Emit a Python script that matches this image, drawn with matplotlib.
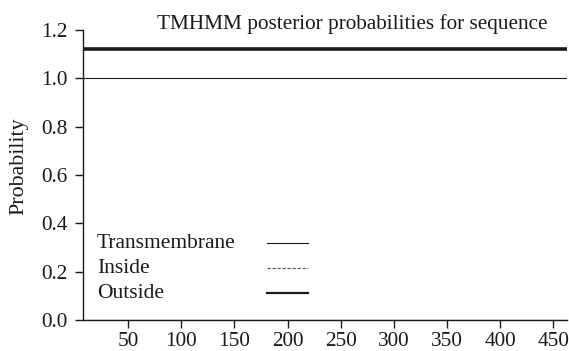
import numpy as np
import matplotlib
matplotlib.use("Agg")
import matplotlib.pyplot as plt

# ---- data ----
seq_len = 463
positions = np.arange(1, seq_len + 1)
transmembrane = np.zeros(seq_len)
inside = np.zeros(seq_len)
outside = np.ones(seq_len)
outside_bar_level = 1.12
labels = ["Transmembrane", "Inside", "Outside"]
xticks = [50, 100, 150, 200, 250, 300, 350, 400, 450]
yticks = [0.0, 0.2, 0.4, 0.6, 0.8, 1.0, 1.2]
title = "TMHMM posterior probabilities for sequence"

plt.rcParams['font.family'] = ['Liberation Serif', 'DejaVu Serif']
fs = 15.3
ink = '#1a1a1a'

fig = plt.figure(figsize=(5.69, 3.51), dpi=100)
ax = fig.add_axes([83/569, 1-320/351, 484/569, 290/351])

ax.plot(positions, transmembrane, color=ink, lw=0.8)
ax.plot(positions, inside, color='#555555', lw=0.8, ls=(0, (3, 1.5)))
ax.plot(positions, outside, color=ink, lw=0.8)
ax.plot(positions, np.full(seq_len, outside_bar_level), color=ink, lw=2.6, solid_capstyle='butt')

ax.set_xlim(7.5, 463)
ax.set_ylim(0, 1.2)
ax.set_xticks(xticks)
ax.set_yticks(yticks)
ax.set_yticklabels([f"{v:.1f}" for v in yticks])
for s in ['top', 'right']:
    ax.spines[s].set_visible(False)
for s in ['left', 'bottom']:
    ax.spines[s].set_color(ink)
    ax.spines[s].set_linewidth(1.0)
ax.tick_params(axis='both', direction='out', length=6, width=1.0, colors=ink, labelsize=fs)
ax.tick_params(axis='y', pad=5)
ax.tick_params(axis='x', pad=3)
ax.set_ylabel("Probability", fontsize=15.8, color=ink)
ax.yaxis.set_label_coords(-0.112, 0.531)

fig.text(157/569, 1-29/351, title, fontsize=fs, color=ink, ha='left', va='baseline')

# manual legend
rows = [0.2655, 0.179, 0.093]
styles = [dict(color=ink, lw=0.8), dict(color='#555555', lw=0.8, ls=(0, (3, 1.5))), dict(color=ink, lw=1.6)]
for lab, yy, st in zip(labels, rows, styles):
    ax.text(0.029, yy, lab, transform=ax.transAxes, fontsize=15.5, color=ink, ha='left', va='center')
    ax.plot([0.380, 0.465], [yy, yy], transform=ax.transAxes, **st)

fig.savefig("out.png", dpi=100)
